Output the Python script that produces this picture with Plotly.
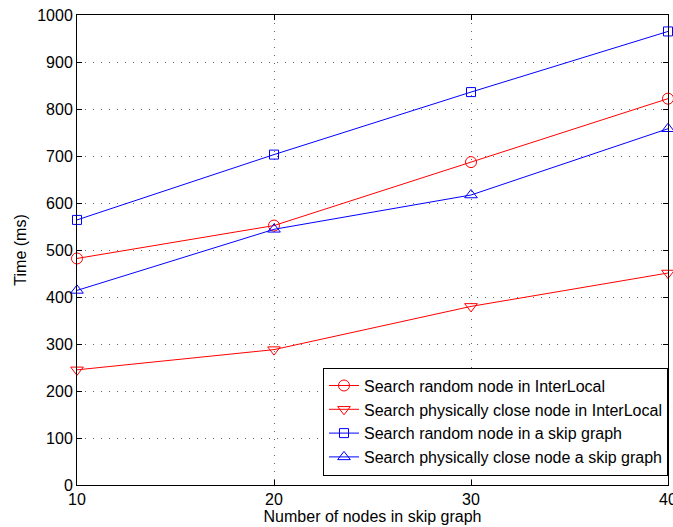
import plotly.graph_objects as go

x_nodes = [10, 20, 30, 40]
rand_interlocal = [482, 552, 687, 822]
close_interlocal = [245, 288, 380, 451]
rand_skip = [564, 703, 836, 965]
close_skip = [414, 544, 617, 758]

names = [
    "Search random node in InterLocal",
    "Search physically close node in InterLocal",
    "Search random node in a skip graph",
    "Search physically close node a skip graph",
]
series = [rand_interlocal, close_interlocal, rand_skip, close_skip]
colors = ["#ff0000", "#ff0000", "#0000ff", "#0000ff"]
symbols = ["circle-open", "triangle-down-open", "square-open", "triangle-up-open"]
sizes = [11, 11, 9, 11]

fig = go.Figure()
for n, s, c, sym, sz in zip(names, series, colors, symbols, sizes):
    fig.add_trace(go.Scatter(
        x=x_nodes, y=s, name=n, mode="lines+markers",
        line=dict(color=c, width=1),
        marker=dict(symbol=sym, size=sz, color=c, line=dict(width=1, color=c)),
        cliponaxis=False,
    ))

font = dict(family="Liberation Sans, Arial, sans-serif", size=16, color="black")
axis_common = dict(
    showline=True, linecolor="black", linewidth=1, mirror="ticks",
    ticks="inside", ticklen=5, tickcolor="black", tickwidth=1,
    showgrid=True, gridcolor="#666666", griddash="1px,7px", gridwidth=1,
    zeroline=False, tickfont=font, ticklabeloverflow="allow",
    automargin=False,
)
fig.update_layout(
    width=673, height=527,
    margin=dict(l=77, r=5, t=15, b=42),
    paper_bgcolor="white", plot_bgcolor="white",
    font=font,
    xaxis=dict(range=[10, 40], tickvals=[10, 20, 30, 40],
               title=dict(text="Number of nodes in skip graph", font=font, standoff=2),
               **axis_common),
    yaxis=dict(range=[0, 1000], tickvals=list(range(0, 1001, 100)),
               title=dict(text="Time (ms)", font=font, standoff=6),
               **axis_common),
    legend=dict(x=1.0, y=0.02, xanchor="right", yanchor="bottom",
                bgcolor="white", bordercolor="black", borderwidth=1,
                font=font, tracegroupgap=0),
    showlegend=True,
)
fig.write_html("out.html")
